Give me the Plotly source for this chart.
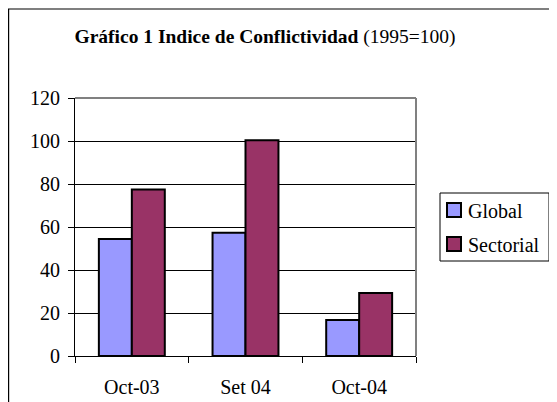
import plotly.graph_objects as go

categories = ["Oct-03", "Set 04", "Oct-04"]
series_names = ["Global", "Sectorial"]
global_vals = [54.4, 57.3, 16.7]
sectorial_vals = [77.5, 100.3, 29.3]
y_ticks = [0, 20, 40, 60, 80, 100, 120]
colors = ["#9999FF", "#993366"]

FONT = "Liberation Serif"
OFF = 8  # page body margin

fig = go.Figure()
for name, vals, col in zip(series_names, [global_vals, sectorial_vals], colors):
    fig.add_trace(go.Bar(name=name, x=categories, y=vals,
                         marker=dict(color=col, line=dict(color="black", width=2))))

W, H = 557 - OFF, 402 - OFF
L, R, T, B = 75 - OFF, 416 - OFF, 98 - OFF, 356 - OFF
pw, ph = R - L, B - T

def px(x):
    return (x - OFF - L) / pw

def py(y):
    return (B - (y - OFF)) / ph

fig.update_layout(
    width=W, height=H,
    margin=dict(l=L, r=W - R, t=T, b=H - B, pad=0, autoexpand=False),
    paper_bgcolor="white", plot_bgcolor="white",
    barmode="group", bargap=0.42, bargroupgap=0,
    font=dict(family=FONT, size=20, color="black"),
    title=dict(text="<b>Gráfico 1 Indice de Conflictividad</b> (1995=100)",
               x=(265 - OFF) / W, xanchor="center", y=1 - (36 - OFF) / H, yanchor="middle",
               xref="container", yref="container",
               font=dict(family=FONT, size=19.5, color="black")),
    showlegend=False,
    xaxis=dict(type="category", showgrid=False, showline=True, linecolor="black", linewidth=1,
               ticks="outside", ticklen=6, tickcolor="black", tickson="boundaries",
               ticklabelstandoff=13, tickfont=dict(family=FONT, size=20), fixedrange=True,
               automargin=False),
    yaxis=dict(range=[0, 120], tickvals=y_ticks, showgrid=True, gridcolor="black", gridwidth=1,
               showline=True, linecolor="black", linewidth=1, zeroline=False,
               ticks="outside", ticklen=6, tickcolor="black",
               ticklabelstandoff=4, tickfont=dict(family=FONT, size=20), fixedrange=True,
               automargin=False),
)

# Plot-area frame (gray top and right edges)
fig.add_shape(type="line", xref="paper", yref="paper", x0=0, x1=1, y0=1, y1=1,
              line=dict(color="#808080", width=2))
fig.add_shape(type="line", xref="paper", yref="paper", x0=1, x1=1, y0=0, y1=1,
              line=dict(color="#808080", width=2))

# Legend (box, swatches, labels)
fig.add_shape(type="rect", xref="paper", yref="paper",
              x0=px(440), x1=px(549), y0=py(261), y1=py(193),
              line=dict(color="black", width=1), fillcolor="white")
for i, (name, col) in enumerate(zip(series_names, colors)):
    top = 203 + i * 34
    fig.add_shape(type="rect", xref="paper", yref="paper",
                  x0=px(447), x1=px(461), y0=py(top + 14), y1=py(top),
                  line=dict(color="black", width=2), fillcolor=col)
    fig.add_annotation(text=name, xref="paper", yref="paper", x=px(466), y=py(top + 8),
                       xanchor="left", yanchor="middle", showarrow=False,
                       font=dict(family=FONT, size=20, color="black"))

# Outer chart frame (continues past the right and bottom edges)
fig.add_shape(type="rect", xref="paper", yref="paper",
              x0=px(8.6), x1=px(557 + 10), y0=py(402 + 10), y1=py(9),
              line=dict(color="black", width=1.2), fillcolor="rgba(0,0,0,0)")

fig.write_html("out.html")
